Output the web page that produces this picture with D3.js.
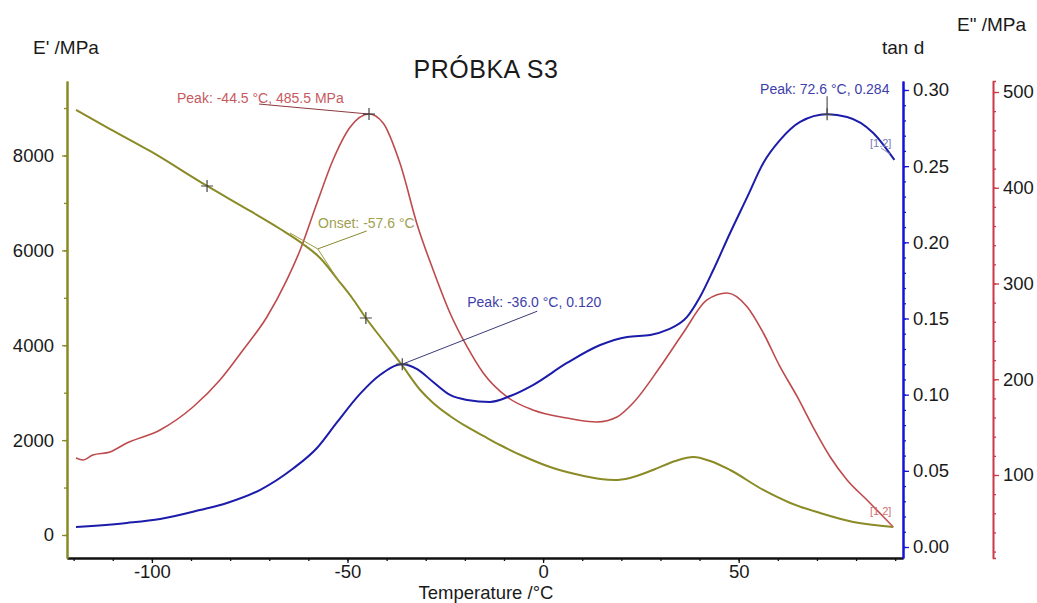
<!DOCTYPE html>
<html>
<head>
<meta charset="utf-8">
<script src="https://cdn.jsdelivr.net/npm/d3@7"></script>
<style>
body { margin: 0; background: white; }
text { font-family: "Liberation Sans", Arial, sans-serif; }
</style>
</head>
<body>
<div id="visualization"></div>
<script>
// Storage modulus E' (MPa) vs temperature (deg C)
var eTemp = [-119.4, -110.7, -100.5, -85.9, -74.9, -67.2, -61.4, -57.0, -52.4, -48.8, -45.3, -40.4, -36.1, -31.4, -28.1,
	-23.8, -19.4, -14.8, -11.0, -4.6, 1.8, 8.2, 14.6, 18.4, 22.2, 28.1, 33.8, 38.4, 42.7, 47.8, 56.3, 63.2, 70.8, 79.3, 89.5];
var eValue = [8960, 8558, 8095, 7357, 6830, 6450, 6134, 5839, 5375, 4996, 4574, 4047, 3584, 3057, 2783,
	2509, 2277, 2066, 1897, 1644, 1433, 1286, 1180, 1159, 1202, 1370, 1560, 1644, 1560, 1370, 949, 675, 464, 274, 169];

// tan d
var tanTemp = [-119.4, -106.4, -97.9, -87.7, -80.8, -72.4, -63.9, -57.8, -52.7, -46.8, -41.7, -36.0, -32.2, -28.1, -23.8,
	-19.4, -13.6, -8.4, -2.6, 6.1, 14.6, 21.5, 27.4, 31.7, 36.8, 40.1, 43.5, 47.8, 52.2, 56.3, 60.6, 65.7, 72.6, 77.7, 84.4, 89.8];
var tanValue = [0.0131, 0.0158, 0.0184, 0.0243, 0.0289, 0.0374, 0.0515, 0.0650, 0.0818, 0.1005, 0.1129, 0.120, 0.1168, 0.1083, 0.0998,
	0.0965, 0.0952, 0.0991, 0.1063, 0.1208, 0.1326, 0.1379, 0.1392, 0.1425, 0.1510, 0.1641, 0.1818, 0.2061, 0.2298, 0.2521, 0.2672, 0.2790, 0.284, 0.2823, 0.2718, 0.2541];

// Loss modulus E'' (MPa)
var lossTemp = [-119.4, -117.6, -115.1, -110.7, -106.4, -97.9, -89.5, -82.6, -76.7, -70.6, -65.5, -62.1, -57.8, -53.7, -49.3, -44.5,
	-40.9, -36.6, -32.0, -28.1, -23.8, -19.4, -15.3, -9.2, -2.6, 6.1, 13.8, 18.9, 23.0, 29.9, 35.8, 41.9, 47.0, 52.2, 56.3, 60.6, 65.0, 69.0, 73.4, 77.7, 82.8, 89.5];
var lossValue = [117.8, 115.7, 120.9, 124.0, 133.4, 147.0, 171.0, 199.2, 230.5, 265.0, 303.7, 335.0, 384.1, 429.0, 463.4, 477.0,
	467.6, 425.8, 359.0, 314.1, 269.2, 233.7, 206.5, 181.5, 167.9, 159.5, 155.4, 160.6, 175.2, 212.8, 248.3, 282.8, 290.1, 275.5, 248.3, 212.8, 181.5, 150.1, 118.8, 94.8, 73.9, 45.7];

// tick labels
var xTicks = [-100, -50, 0, 50];
var eTicks = [0, 2000, 4000, 6000, 8000];
var tanTicks = [0.00, 0.05, 0.10, 0.15, 0.20, 0.25, 0.30];
var lossTicks = [100, 200, 300, 400, 500];

var oliveCol = "#8a8a26";
var blueCol = "#1c1caa";
var redCol = "#bd4a4c";

var svg = d3.select("#visualization").append("svg")
	.attr("width", 1037)
	.attr("height", 603);

var x = d3.scaleLinear().domain([-121.7, 92]).range([67, 903]);
var yE = d3.scaleLinear().domain([-485, 9570]).range([558, 81]);
var yTan = d3.scaleLinear().domain([-0.00722, 0.3059]).range([558, 81]);
var yLoss = d3.scaleLinear().domain([13.3, 511.5]).range([558, 81]);

// helper for minor ticks
function range(a, b, step) {
	var out = [];
	for (var v = a; v <= b + step / 1000; v += step) out.push(+v.toFixed(4));
	return out;
}

// plain hyphen minus, like the original software
var intFmt = function(d){ return String(d); };
var decFmt = function(d){ return d.toFixed(2); };

function styleAxis(g, col, w, fs) {
	g.select(".domain").attr("stroke", col).attr("stroke-width", w);
	g.selectAll(".tick line").attr("stroke", col).attr("stroke-width", 1.3);
	g.selectAll(".tick text").attr("fill", "#1a1a1a").style("font-size", fs + "px")
		.style("font-family", "'Liberation Sans', Arial, sans-serif");
}

// Bottom axis
var gx = svg.append("g").attr("transform", "translate(0,558)");
gx.append("g").call(d3.axisBottom(x).tickValues(range(-120, 90, 10)).tickFormat("").tickSize(3).tickSizeOuter(0))
	.call(function(g){ styleAxis(g, "#111", 2, 18.5); });
gx.append("g").call(d3.axisBottom(x).tickValues(xTicks).tickFormat(intFmt).tickSize(5).tickPadding(2).tickSizeOuter(0))
	.call(function(g){ styleAxis(g, "#111", 2, 18.5); });

// Left axis E'
var gE = svg.append("g").attr("transform", "translate(67,0)");
gE.append("g").call(d3.axisLeft(yE).tickValues(range(0, 9000, 1000)).tickFormat("").tickSize(3).tickSizeOuter(0))
	.call(function(g){ styleAxis(g, oliveCol, 2, 18.5); });
gE.append("g").call(d3.axisLeft(yE).tickValues(eTicks).tickFormat(intFmt).tickSize(5).tickPadding(8).tickSizeOuter(0))
	.call(function(g){ styleAxis(g, oliveCol, 2, 18.5); });

// Right axis tan d
var gT = svg.append("g").attr("transform", "translate(903,0)");
gT.append("g").call(d3.axisRight(yTan).tickValues(range(0, 0.30, 0.01)).tickFormat("").tickSize(3).tickSizeOuter(0))
	.call(function(g){ styleAxis(g, "#1414d8", 2, 18.5); });
gT.append("g").call(d3.axisRight(yTan).tickValues(tanTicks).tickFormat(decFmt).tickSize(6).tickPadding(4).tickSizeOuter(0))
	.call(function(g){ styleAxis(g, "#1414d8", 2, 18.5); });

// Far right axis E''
var gL = svg.append("g").attr("transform", "translate(993,0)");
gL.append("g").call(d3.axisRight(yLoss).tickValues(range(20, 500, 20)).tickFormat("").tickSize(3).tickSizeOuter(3))
	.call(function(g){ styleAxis(g, "#cc3a46", 1.6, 18.5); });
gL.append("g").call(d3.axisRight(yLoss).tickValues(lossTicks).tickFormat(intFmt).tickSize(6).tickPadding(4).tickSizeOuter(0))
	.call(function(g){ styleAxis(g, "#cc3a46", 1.6, 18.5); });

// Axis titles
function label(px, py, txt, size, col, anchor) {
	return svg.append("text").attr("x", px).attr("y", py).text(txt)
		.attr("font-size", size + "px").attr("fill", col || "#1a1a1a")
		.attr("text-anchor", anchor || "start");
}
label(33, 54, "E' /MPa", 19);
label(882, 54, "tan d", 19);
label(957, 31, "E\" /MPa", 19);
label(486, 599, "Temperature /°C", 18.5, null, "middle");
label(486, 78, "PRÓBKA S3", 25, null, "middle").attr("letter-spacing", "0.5px");

// Curves
function drawCurve(temps, vals, yScale, col, w) {
	var pts = temps.map(function(t, i){ return [t, vals[i]]; });
	var line = d3.line()
		.x(function(d){ return x(d[0]); })
		.y(function(d){ return yScale(d[1]); })
		.curve(d3.curveMonotoneX);
	svg.append("path").datum(pts)
		.attr("d", line)
		.attr("fill", "none")
		.attr("stroke", col)
		.attr("stroke-width", w)
		.attr("stroke-linejoin", "round");
}
drawCurve(lossTemp, lossValue, yLoss, redCol, 1.6);
drawCurve(eTemp, eValue, yE, oliveCol, 2);
drawCurve(tanTemp, tanValue, yTan, blueCol, 2);

// Onset construction (tangents)
var onsetT = -57.6, onsetE = 6030;
var tangentA = [[-64.7, 6366], [onsetT, onsetE]];
var tangentB = [[onsetT, onsetE], [-51.9, 5312]];
[tangentA, tangentB].forEach(function(seg){
	svg.append("line")
		.attr("x1", x(seg[0][0])).attr("y1", yE(seg[0][1]))
		.attr("x2", x(seg[1][0])).attr("y2", yE(seg[1][1]))
		.attr("stroke", "#9a9a40").attr("stroke-width", 1);
});
svg.append("line")
	.attr("x1", x(onsetT)).attr("y1", yE(onsetE))
	.attr("x2", x(onsetT) + 49).attr("y2", yE(onsetE) - 18)
	.attr("stroke", "#8a8a30").attr("stroke-width", 1);
label(318, 228, "Onset: -57.6 °C", 14, "#a0a050");

// crosshair markers
function cross(px, py) {
	var s = 6;
	svg.append("path")
		.attr("d", "M" + (px - s) + "," + py + "H" + (px + s) + "M" + px + "," + (py - s) + "V" + (py + s))
		.attr("stroke", "#444").attr("stroke-width", 1.2);
}
cross(x(-85.9), yE(7357));
cross(x(-45.3), yE(4574));

// E'' peak
var lpx = x(-44.5), lpy = yLoss(477.0);
svg.append("line").attr("x1", lpx - 110).attr("y1", lpy - 10).attr("x2", lpx).attr("y2", lpy)
	.attr("stroke", "#8a3a40").attr("stroke-width", 1);
cross(lpx, lpy);
label(lpx - 192, lpy - 11, "Peak: -44.5 °C, 485.5 MPa", 14, "#c65a5e");

// tan d peak 1
var t1x = x(-36.0), t1y = yTan(0.120);
svg.append("line").attr("x1", t1x).attr("y1", t1y).attr("x2", t1x + 135).attr("y2", t1y - 53)
	.attr("stroke", "#3a3a78").attr("stroke-width", 1);
cross(t1x, t1y);
label(t1x + 65, t1y - 57, "Peak: -36.0 °C, 0.120", 14, "#3e3eaa");

// tan d peak 2
var t2x = x(72.6), t2y = yTan(0.284);
svg.append("line").attr("x1", t2x).attr("y1", t2y - 18).attr("x2", t2x).attr("y2", t2y)
	.attr("stroke", "#555").attr("stroke-width", 1.2);
cross(t2x, t2y);
label(t2x - 67, t2y - 20, "Peak: 72.6 °C, 0.284", 14, "#3e3eaa");

// curve end tags
label(870, 147, "[1.2]", 11, "#7878b4");
svg.append("line").attr("x1", 881).attr("y1", 148).attr("x2", 890).attr("y2", 154)
	.attr("stroke", "#8888bb").attr("stroke-width", 1);
label(870, 515, "[1.2]", 11, "#d07070");
svg.append("line").attr("x1", 882).attr("y1", 516).attr("x2", x(89.5)).attr("y2", yLoss(45.7))
	.attr("stroke", "#d07070").attr("stroke-width", 1);
</script>
</body>
</html>
